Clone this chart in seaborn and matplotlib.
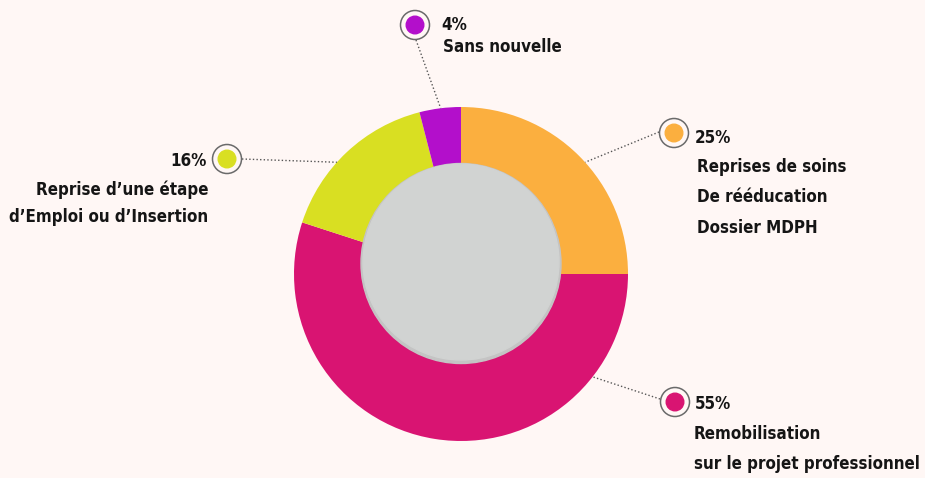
import os
import numpy as np
import matplotlib
matplotlib.use("Agg")
import matplotlib.pyplot as plt
import matplotlib.font_manager as fm
import seaborn as sns
from matplotlib.patches import Circle

sns.set_theme(style="white")
plt.rcParams['font.family'] = ['DejaVu Sans']

# data
values = [25, 55, 16, 4]
pcts = ["25%", "55%", "16%", "4%"]
labels = [["Reprises de soins", "De rééducation", "Dossier MDPH"],
          ["Remobilisation", "sur le projet professionnel"],
          ["Reprise d’une étape", "d’Emploi ou d’Insertion"],
          ["Sans nouvelle"]]
colors = ["#FBAF3F", "#D91472", "#D9DF22", "#B30FCB"]

bg = "#FFF7F5"
ink = "#151515"
H = 478


def pick_font():
    # prefer a narrow bold face if one is installed
    prefs = ["LiberationSansNarrow-Bold", "DejaVuSansCondensed-Bold",
             "RobotoCondensed-Bold", "OpenSans_Condensed-Bold",
             "OpenSansCondensed-Bold"]
    files = [f.fname for f in fm.fontManager.ttflist]
    for p in prefs:
        for f in files:
            if os.path.basename(f).startswith(p):
                return fm.FontProperties(fname=f)
    return fm.FontProperties(family="DejaVu Sans", weight="bold",
                             stretch="condensed")


fp = pick_font()

fig = plt.figure(figsize=(9.25, 4.78), dpi=100, facecolor=bg)
ax = fig.add_axes([0, 0, 1, 1])
ax.set_facecolor(bg)

cx, cy, R = 461, H - 274, 167
wedges, _ = ax.pie(values, colors=colors, startangle=90, counterclock=False,
                   center=(cx, cy), radius=R, frame=True,
                   wedgeprops=dict(linewidth=0))
ax.set_xlim(0, 925)
ax.set_ylim(0, H)
ax.axis("off")

# grey centre disc with a soft shadow
ax.add_patch(Circle((461, H - 263.5), 100, color="#c4c4c4", zorder=3))
ax.add_patch(Circle((461, H - 262), 98, color="#D1D3D2", zorder=4))

# size the font so the longest line fits like in the reference (~227 px)
probe = ax.text(0, 0, "sur le projet professionnel", fontproperties=fp)
probe.set_fontsize(20)
fig.canvas.draw()
w = probe.get_window_extent().width
probe.remove()
fsize = 20 * 227 / w

# layout: marker centre, anchor angle on the donut, text side, line y centres
layout = [
    dict(m=(674, 133), ang=42, side="right", start=(659, 132),
         tx=(695, 697), ys=[136, 165, 195, 226]),
    dict(m=(675, 402), ang=-38, side="right", start=(660, 399),
         tx=(695, 694), ys=[402, 432, 462]),
    dict(m=(227, 159), ang=138, side="left", start=(242, 159),
         tx=(207, 208), ys=[159, 188, 215]),
    dict(m=(415, 25), ang=97, side="right", start=(416, 40),
         tx=(441, 443), ys=[23, 45]),
]

for lay, pct, lab, col in zip(layout, pcts, labels, colors):
    mx, my = lay["m"]
    a = np.deg2rad(lay["ang"])
    ex, ey = cx + R * np.cos(a), cy + R * np.sin(a)
    sx, sy = lay["start"]
    ax.plot([sx, ex], [H - sy, ey], color="#555555", lw=1,
            linestyle=(0, (1, 1.6)), zorder=2)
    ax.add_patch(Circle((mx, H - my), 14.5, facecolor=bg, edgecolor="#6a6a6a",
                        lw=1.1, zorder=5))
    ax.add_patch(Circle((mx, H - my), 8.8, color=col, zorder=6))
    ha = "left" if lay["side"] == "right" else "right"
    lines = [pct] + lab
    for i, (txt, y) in enumerate(zip(lines, lay["ys"])):
        x = lay["tx"][0] if i == 0 else lay["tx"][1]
        ax.text(x, H - y, txt, ha=ha, va="center_baseline",
                fontproperties=fp, fontsize=fsize, color=ink)

fig.savefig("out.png", dpi=100, facecolor=bg)
